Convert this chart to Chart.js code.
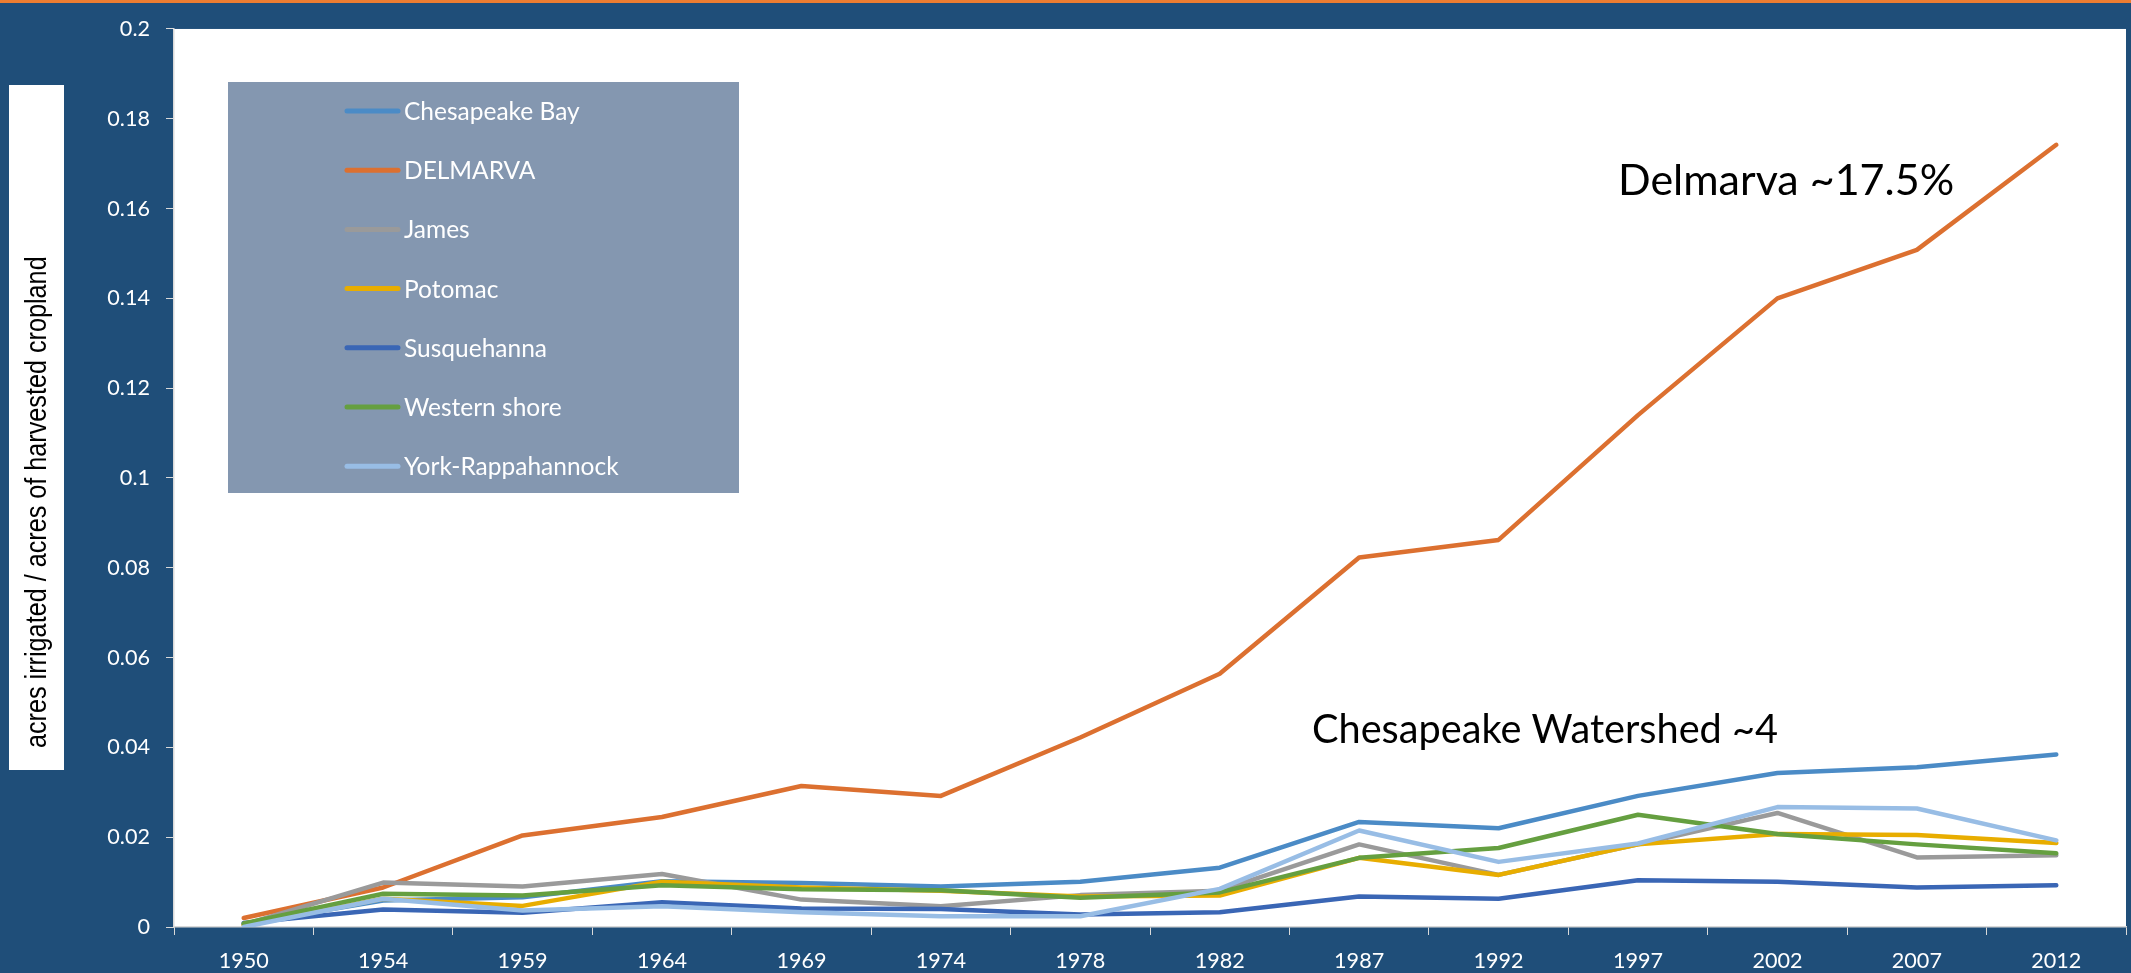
<!DOCTYPE html>
<html>
<head>
<meta charset="utf-8">
<title>Irrigated share of harvested cropland</title>
<script src="https://cdn.jsdelivr.net/npm/chart.js@4.4.1/dist/chart.umd.min.js"></script>
<style>
  html, body { margin: 0; padding: 0; background: #1f4e79; overflow: hidden; }
  #chartIrrigation { display: block; }
</style>
</head>
<body>
<canvas id="chartIrrigation" width="2131" height="973"></canvas>
<script>
// ---- data ----
const YEARS = ['1950', '1954', '1959', '1964', '1969', '1974', '1978', '1982', '1987', '1992', '1997', '2002', '2007', '2012'];

const CHESAPEAKE_BAY = [0.0007, 0.0059, 0.0066, 0.0102, 0.0098, 0.0090, 0.0101, 0.0132, 0.0234, 0.0220, 0.0292, 0.0343, 0.0356, 0.0384];
const DELMARVA       = [0.0020, 0.0088, 0.0204, 0.0245, 0.0314, 0.0292, 0.0422, 0.0564, 0.0823, 0.0862, 0.1140, 0.1400, 0.1508, 0.1742];
const JAMES          = [0.0005, 0.0099, 0.0090, 0.0118, 0.0061, 0.0046, 0.0071, 0.0081, 0.0184, 0.0116, 0.0184, 0.0254, 0.0155, 0.0160];
const POTOMAC        = [0.0005, 0.0063, 0.0047, 0.0101, 0.0088, 0.0081, 0.0068, 0.0070, 0.0154, 0.0116, 0.0184, 0.0207, 0.0205, 0.0187];
const SUSQUEHANNA    = [0.0009, 0.0039, 0.0032, 0.0055, 0.0041, 0.0040, 0.0028, 0.0033, 0.0068, 0.0063, 0.0104, 0.0101, 0.0088, 0.0093];
const WESTERN_SHORE  = [0.0008, 0.0074, 0.0070, 0.0093, 0.0084, 0.0082, 0.0065, 0.0077, 0.0154, 0.0176, 0.0250, 0.0207, 0.0184, 0.0164];
const YORK_RAPP      = [0.0000, 0.0063, 0.0037, 0.0046, 0.0033, 0.0024, 0.0024, 0.0085, 0.0215, 0.0145, 0.0186, 0.0267, 0.0264, 0.0193];

const SERIES_NAMES = ['Chesapeake Bay', 'DELMARVA', 'James', 'Potomac', 'Susquehanna', 'Western shore', 'York-Rappahannock'];
const SERIES_DATA = [CHESAPEAKE_BAY, DELMARVA, JAMES, POTOMAC, SUSQUEHANNA, WESTERN_SHORE, YORK_RAPP];
const SERIES_COLORS = ['#4b8bc6', '#dc7030', '#9a9a9a', '#e8ad00', '#3a66b5', '#659f40', '#98bde5'];

const Y_TICKS = [0, 0.02, 0.04, 0.06, 0.08, 0.1, 0.12, 0.14, 0.16, 0.18, 0.2];
const Y_TICK_LABELS = ['0', '0.02', '0.04', '0.06', '0.08', '0.1', '0.12', '0.14', '0.16', '0.18', '0.2'];

const AXIS_TITLE = 'acres irrigated / acres of harvested cropland';
const NOTE_DELMARVA = 'Delmarva ~17.5%';
const NOTE_WATERSHED = 'Chesapeake Watershed ~4';

// ---- look ----
const BG_BLUE = '#1f4e79';
const AXIS_GREY = '#d9d9d9';
const LEGEND_FILL = '#8497b0';
const SANS = "Lato, 'Open Sans', sans-serif";

// font size that makes a string come out at a given pixel width
const measureCtx = document.createElement('canvas').getContext('2d');
function fitSize(text, family, width) {
  measureCtx.font = `100px ${family}`;
  return Math.round(100 * width / measureCtx.measureText(text).width * 10) / 10;
}

const TICK_SIZE = fitSize('1950', SANS, 50);
const LEGEND_SIZE = fitSize('Chesapeake Bay', SANS, 176);
const NOTES = [
  { text: NOTE_DELMARVA, x: 1618, y: 195, size: fitSize(NOTE_DELMARVA, SANS, 336) },
  { text: NOTE_WATERSHED, x: 1312, y: 743, size: fitSize(NOTE_WATERSHED, SANS, 466) }
];

// slide background, white plot area, legend panel, boxed axis title and notes
const slideFrame = {
  id: 'slideFrame',
  beforeDraw(chart) {
    const { ctx, chartArea: a, width, height } = chart;
    ctx.save();
    ctx.fillStyle = BG_BLUE;
    ctx.fillRect(0, 0, width, height);
    ctx.fillStyle = '#ed7d31';
    ctx.fillRect(0, 0, width, 3);
    ctx.fillStyle = '#ffffff';
    ctx.fillRect(a.left, a.top, a.right - a.left, a.bottom - a.top);
    ctx.restore();
  },
  afterDraw(chart) {
    drawLegendPanel(chart);
    drawAxisTitle(chart);
    drawNotes(chart);
  }
};

function drawLegendPanel(chart) {
  const ctx = chart.ctx;
  ctx.save();
  ctx.fillStyle = LEGEND_FILL;
  ctx.fillRect(228, 82, 511, 411);
  ctx.font = `${LEGEND_SIZE}px ${SANS}`;
  ctx.textBaseline = 'middle';
  ctx.lineCap = 'round';
  ctx.lineWidth = 5;
  chart.data.datasets.forEach((ds, i) => {
    const y = 111 + i * 59.2;
    ctx.strokeStyle = ds.borderColor;
    ctx.beginPath();
    ctx.moveTo(347, y);
    ctx.lineTo(398, y);
    ctx.stroke();
    ctx.fillStyle = '#ffffff';
    ctx.fillText(ds.label, 404, y + 1);
  });
  ctx.restore();
}

function drawAxisTitle(chart) {
  const ctx = chart.ctx;
  ctx.save();
  ctx.fillStyle = '#ffffff';
  ctx.fillRect(9, 85, 55, 685);
  ctx.translate(46, 748);
  ctx.rotate(-Math.PI / 2);
  ctx.scale(0.84, 1);
  ctx.fillStyle = '#000000';
  ctx.font = "30px 'Liberation Sans', Arial, sans-serif";
  ctx.textBaseline = 'alphabetic';
  ctx.fillText(AXIS_TITLE, 0, 0);
  ctx.restore();
}

function drawNotes(chart) {
  const ctx = chart.ctx;
  ctx.save();
  ctx.fillStyle = '#000000';
  ctx.textBaseline = 'alphabetic';
  NOTES.forEach(n => {
    ctx.font = `${n.size}px ${SANS}`;
    ctx.fillText(n.text, n.x, n.y);
  });
  ctx.restore();
}

function createIrrigationChart() {
  const ctx = document.getElementById('chartIrrigation');
  if (!ctx) return;

  const tickFont = { family: SANS, size: TICK_SIZE };

  new Chart(ctx, {
    type: 'line',
    data: {
      labels: YEARS,
      datasets: SERIES_NAMES.map((name, i) => ({
        label: name,
        data: SERIES_DATA[i],
        borderColor: SERIES_COLORS[i],
        backgroundColor: SERIES_COLORS[i],
        borderWidth: 4.5,
        borderJoinStyle: 'round',
        borderCapStyle: 'round',
        pointRadius: 0,
        tension: 0,
        fill: false,
        order: SERIES_NAMES.length - i
      }))
    },
    options: {
      responsive: false,
      animation: false,
      devicePixelRatio: 1,
      layout: { padding: { top: 18, right: 5, bottom: 0, left: 0 } },
      plugins: {
        legend: { display: false },
        tooltip: { enabled: true }
      },
      scales: {
        x: {
          type: 'category',
          offset: true,
          grid: { display: true, drawOnChartArea: false, drawTicks: true, tickLength: 8, color: AXIS_GREY, offset: true },
          border: { display: true, color: AXIS_GREY, width: 1.5 },
          ticks: { color: '#ffffff', font: tickFont, padding: 13, maxRotation: 0, autoSkip: false },
          afterFit: (s) => { s.height = 46; }
        },
        y: {
          min: 0,
          max: 0.2,
          grid: { display: true, drawOnChartArea: false, drawTicks: true, tickLength: 8, color: AXIS_GREY },
          border: { display: true, color: AXIS_GREY, width: 1.5 },
          afterBuildTicks: (s) => { s.ticks = Y_TICKS.map(v => ({ value: v })); },
          ticks: {
            color: '#ffffff',
            font: tickFont,
            padding: 16,
            callback: (v, i) => Y_TICK_LABELS[i]
          },
          afterFit: (s) => { s.width = 174; }
        }
      }
    },
    plugins: [slideFrame]
  });
}

createIrrigationChart();
</script>
</body>
</html>
